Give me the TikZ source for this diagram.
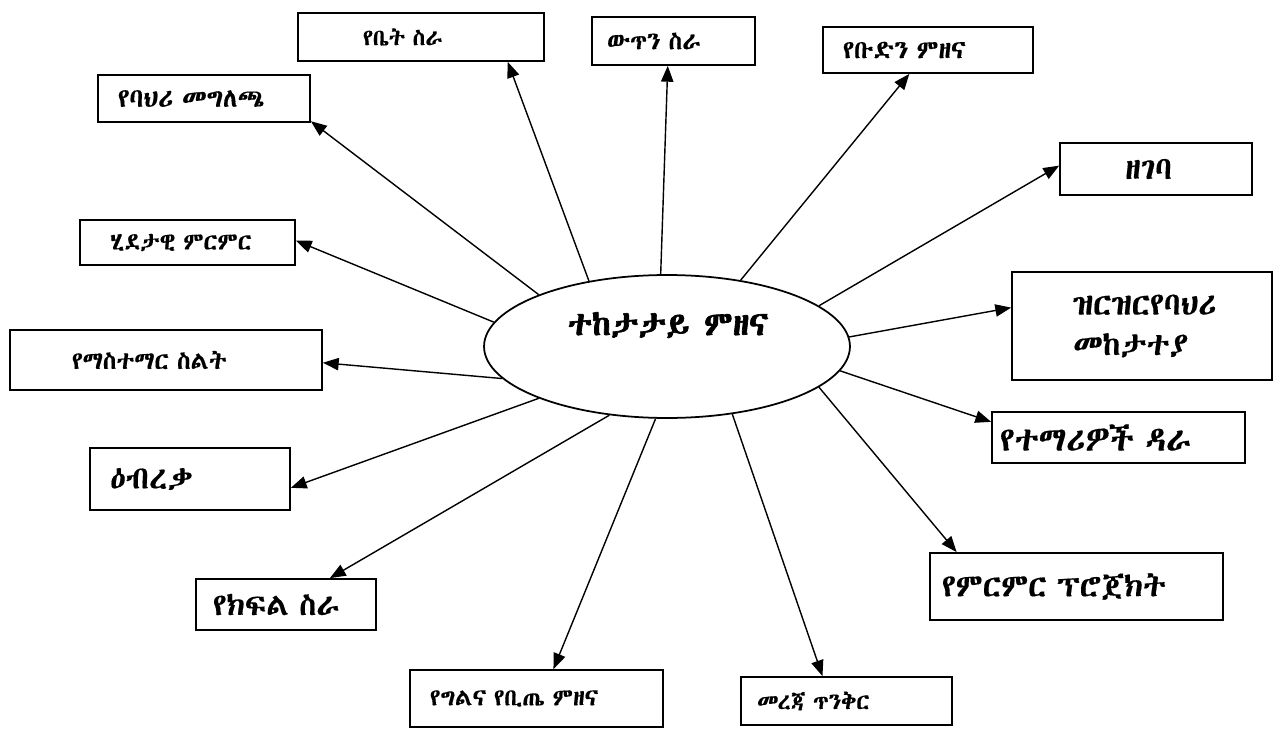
\documentclass[tikz,border=0pt]{standalone}
\usepackage{fontspec}
\IfFontExistsTF{Abyssinica SIL}{\setmainfont{Abyssinica SIL}[FakeBold=0.4, AutoFakeBold=2]}{%
  \IfFontExistsTF{Noto Sans Ethiopic}{\setmainfont{Noto Sans Ethiopic}}{%
    \IfFontExistsTF{FreeSerif}{\setmainfont{FreeSerif}}{\setmainfont{DejaVu Sans}}}}
\usetikzlibrary{arrows.meta, shapes.geometric}
\newcommand{\txtsize}[1]{\fontsize{#1}{#1}\selectfont}

\begin{document}
\begin{tikzpicture}[
    x=0.02cm, y=-0.02cm,
    box/.style={rectangle, draw, line width=1pt, align=left, inner ysep=0pt},
    hub/.style={ellipse, draw, line width=1pt, inner sep=0pt, minimum width=7.32cm, minimum height=2.86cm},
    arrow/.style={-{Triangle[length=9pt, width=7pt]}, line width=0.8pt}
]
\useasboundingbox (0,0) rectangle (1278,730);

% Centre
\node[hub] (hub) at (667,346.5) {};
\node[font=\bfseries\txtsize{19}] (hubtext) at (668,325) {ተከታታይ ምዘና};

% Top row
\node[box, text width=2.32cm, inner xsep=1.3cm, minimum height=0.96cm, font=\txtsize{13}] (homework) at (421,37) {የቤት ስራ};
\node[box, text width=2.66cm, inner xsep=0.3cm, minimum height=0.96cm, font=\txtsize{14}] (plan) at (673.5,41) {ውጥን ስራ};
\node[box, text width=3.4cm, inner xsep=0.4cm, minimum height=0.92cm, font=\txtsize{14.5}] (group) at (928,50) {የቡድን ምዘና};

% Right side
\node[box, text width=1.24cm, inner xsep=1.3cm, minimum height=1.04cm, font=\txtsize{18}] (report) at (1156,169) {ዘገባ};
\node[box, text width=2.76cm, inner xsep=1.22cm, minimum height=2.16cm, font=\fontsize{18}{23}\selectfont] (tracking) at (1142,326) {ዝርዝርየባህሪ\\መከታተያ};
\node[box, text width=4.74cm, inner xsep=0.16cm, minimum height=1.02cm, font=\txtsize{19}] (background) at (1118.5,437.5) {የተማሪዎች ዳራ};
\node[box, text width=5.38cm, inner xsep=0.24cm, minimum height=1.34cm, font=\txtsize{18}] (project) at (1076.5,586.5) {የምርምር ፕሮጀክት};

% Bottom row
\node[box, text width=3.58cm, inner xsep=0.32cm, minimum height=0.96cm, font=\txtsize{13}] (portfolio) at (846.5,701) {መረጃ ጥንቅር};
\node[box, text width=4.26cm, inner xsep=0.4cm, minimum height=1.14cm, font=\txtsize{13.5}] (peer) at (536.5,698.5) {የግልና የቢጤ ምዘና};
\node[box, text width=2.92cm, inner xsep=0.34cm, minimum height=1.02cm, font=\txtsize{17.5}] (classwork) at (286,604.5) {የክፍል ስራ};

% Left side
\node[box, text width=3.2cm, inner xsep=0.4cm, minimum height=1.24cm, font=\txtsize{18}] (feedback) at (190,479) {ዕብረቃ};
\node[box, text width=3.76cm, inner xsep=1.24cm, minimum height=1.2cm, font=\txtsize{14}] (method) at (166,360) {የማስተማር ስልት};
\node[box, text width=3.1cm, inner xsep=0.6cm, minimum height=0.9cm, font=\txtsize{13.5}] (action) at (187.5,242.5) {ሂደታዊ ምርምር};
\node[box, text width=3.44cm, inner xsep=0.4cm, minimum height=0.94cm, font=\txtsize{15}] (behaviour) at (204,98.5) {የባህሪ መግለጫ};

% Arrows out of the centre
\draw[arrow] (hub.140.8) -- (homework.-16.6);
\draw[arrow] (hub.95.6) -- (plan.-103);
\draw[arrow] (hub.42.8) -- (group.-128);
\draw[arrow] (hub.15) -- (report.178.8);
\draw[arrow] (hub.3.6) -- (tracking.172);
\draw[arrow] (hub.-8.2) -- (background.173);
\draw[arrow] (hub.-15.5) -- (project.164.8);
\draw[arrow] (hub.-46.4) -- (portfolio.134.4);
\draw[arrow] (hub.-99.3) -- (peer.60);
\draw[arrow] (hub.-130.4) -- (classwork.31.3);
\draw[arrow] (hub.202.4) -- (feedback.-5.1);
\draw[arrow] (hub.191.6) -- (method.-1);
\draw[arrow] (hub.172.9) -- (action.1.3);
\draw[arrow] (hub.158.6) -- (behaviour.-12.1);

\end{tikzpicture}
\end{document}
